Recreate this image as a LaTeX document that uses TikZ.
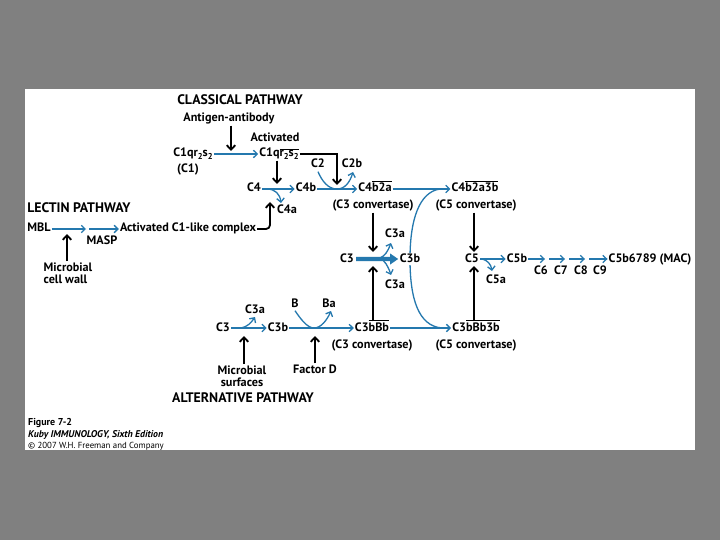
\documentclass[tikz,border=0pt]{standalone}
\usepackage{fontspec}
\setmainfont{PT Sans}
\usetikzlibrary{arrows.meta,calc}
\definecolor{bgg}{RGB}{128,128,128}
\definecolor{arb}{RGB}{36,120,174}
\newcommand\sbt[1]{\raisebox{-0.4ex}{\fontsize{8.5}{9}\selectfont #1}}
\newcommand\ovl[1]{\vbox{\hrule height 0.8pt\kern1.2pt\hbox{#1}}}
\begin{document}
\begin{tikzpicture}[x=1pt,y=-1pt,
 lbl/.style={font=\bfseries\fontsize{12.2}{13}\selectfont, inner sep=1pt, text height=8.5pt, text depth=2.5pt},
 lblm/.style={font=\bfseries\fontsize{12.2}{12.5}\selectfont, inner sep=1pt},
 ttl/.style={font=\bfseries\fontsize{13.8}{15}\selectfont, inner sep=0pt},
 barr/.style={draw=arb, line width=1.3pt, -{Straight Barb[length=3.8pt,width=7.5pt]}},
 bln/.style={draw=arb, line width=1.3pt},
 karr/.style={draw=black, line width=1.8pt, -{Straight Barb[length=4.5pt,width=8.5pt]}},
 foot/.style={anchor=west, inner sep=0pt, font=\fontsize{8.8}{10}\selectfont}]
\fill[bgg] (0,0) rectangle (720,540);
\fill[white] (25,89) rectangle (695,450);
\useasboundingbox (0,0) rectangle (720,540);

% classical pathway
\node[ttl] (cp) at (240,100) {CLASSICAL PATHWAY};
\node[lbl] (ag) at (229,119) {Antigen-antibody};
\node[lbl] (c1) at (193,154) {C1qr\sbt2s\sbt2};
\node[lbl] (c1n) at (188,170) {(C1)};
\node[lbl] (act) at (275,139) {Activated};
\node[lbl] (c1a) at (279,154) {C1q\ovl{r\sbt2s\sbt2}};
\coordinate (j1) at (231,151);
\draw[karr] (ag.south -| j1) -- (j1);
\draw[barr] (c1) -- (c1a);
\coordinate (j2) at (337,185);
\draw[karr] (c1a.east) -- (j2 |- c1a.east) -- (j2);
\coordinate (j3) at (277,184);
\draw[karr] (j3 |- c1a.south) -- (j3);

\node[lbl] (c2) at (318,165) {C2};
\node[lbl] (c2b) at (352,165) {C2b};
\node[lbl] (c4) at (254,189) {C4};
\node[lbl] (c4b) at (306,189) {C4b};
\node[lbl] (c4a) at (287,211) {C4a};
\draw[barr] (c4) -- (c4b);
\coordinate (b4) at (267,189);
\coordinate (b4e) at (281,203);
\draw[barr] (b4) .. controls (275,189) and (280,194) .. (b4e);

% lectin pathway
\node[ttl] (lp) at (79,208) {LECTIN PATHWAY};
\node[lbl] (mbl) at (39,229) {MBL};
\node[lbl] (masp) at (102,241) {MASP};
\node[lbl] (ac1) at (188,229) {Activated C1-like complex};
\coordinate (m1) at (86,229);
\coordinate (m2) at (89,229);
\draw[barr] (mbl) -- (m1);
\draw[barr] (m2) -- (ac1);
\node[lblm, align=left] (mcw) at (68,273) {Microbial\\cell wall};
\coordinate (m3) at (67,234);
\draw[karr] (m3 |- mcw.north) -- (m3);
\coordinate (h1) at (270,202);
\draw[karr, rounded corners=4pt] (ac1.east) -- (h1 |- ac1.east) -- (h1);

% convertases
\node[lbl] (c4b2a) at (375,189) {C4\ovl{b2a}};
\node[lbl] (cv1) at (373,206) {(C3 convertase)};
\draw[barr] (c4b) -- (c4b2a);
\coordinate (j2b) at (337,189);
\draw[bln] (c2.south) .. controls (322,181) and (328,189) .. (j2b);
\draw[barr] (j2b) .. controls (345,189) and (350,182) .. (353,172);
\node[lbl] (c4b2a3b) at (475,189) {C4\ovl{b2a3b}};
\node[lbl] (cv2) at (476,206) {(C5 convertase)};
\draw[barr] (c4b2a) -- (c4b2a3b);

% C3b joining curve
\coordinate (cc) at (410,259);
\coordinate (t1) at (440,189);
\coordinate (t2) at (442,328);
\draw[bln] (t1) .. controls (419,192) and (410,220) .. (cc) .. controls (410,298) and (418,326) .. (t2);

% C3 row
\node[lbl] (c3m) at (347,259) {C3};
\node[lbl, fill=white, inner sep=0.5pt] (c3bm) at (410,259) {C3b};
\coordinate (tp) at ($(c3bm.west)+(-1,0)$);
\coordinate (tq) at ($(c3m.east)+(1,0)$);
\fill[arb] (tq) ++(0,-2.2) -- ($(tp)+(-8,-2.2)$) -- ($(tp)+(-8,-5.5)$) -- (tp)
  -- ($(tp)+(-8,5.5)$) -- ($(tp)+(-8,2.2)$) -- ($(tq)+(0,2.2)$) -- cycle;
\node[lbl] (c3a1) at (395,234) {C3a};
\node[lbl] (c3a2) at (395,285) {C3a};
\coordinate (s1) at (380,258);
\coordinate (s1a) at (391,243);
\coordinate (s1b) at (391,275);
\draw[barr] (s1) .. controls (385,256) and (388,251) .. (s1a);
\draw[barr] (s1) .. controls (385,261) and (388,266) .. (s1b);

% C5 row
\node[lbl] (c5) at (472,259) {C5};
\node[lbl] (c5b) at (517,259) {C5b};
\node[lbl] (c5a) at (496,280) {C5a};
\draw[barr] (c5) -- (c5b);
\coordinate (s2) at (482,259);
\coordinate (s2e) at (492,271);
\draw[barr] (s2) .. controls (487,260) and (491,264) .. (s2e);
\node[lbl] (c6) at (541,271) {C6};
\node[lbl] (c7) at (561,271) {C7};
\node[lbl] (c8) at (581,271) {C8};
\node[lbl] (c9) at (600,271) {C9};
\node[lbl] (mac) at (650,259) {C5b6789 (MAC)};
\coordinate (a1e) at (545,259);
\coordinate (a2s) at (549,259);
\coordinate (a2e) at (565,259);
\coordinate (a3s) at (569,259);
\coordinate (a3e) at (585,259);
\coordinate (a4s) at (589,259);
\draw[barr] (c5b) -- (a1e);
\draw[barr] (a2s) -- (a2e);
\draw[barr] (a3s) -- (a3e);
\draw[barr] (a4s) -- (mac);

% alternative pathway
\node[lbl] (c3L) at (223,328) {C3};
\node[lbl] (c3aL) at (255,310) {C3a};
\node[lbl] (c3bL) at (278,328) {C3b};
\draw[barr] (c3L) -- (c3bL);
\coordinate (s3) at (241,328);
\coordinate (s3e) at (255,317);
\draw[barr] (s3) .. controls (247,327) and (251,323) .. (s3e);
\node[lbl] (Bn) at (295,304) {B};
\node[lbl] (Ba) at (329,304) {Ba};
\node[lbl] (c3bBb) at (372,328) {C3\ovl{bBb}};
\node[lbl] (cv3) at (372,345) {(C3 convertase)};
\node[lbl] (c3bBb3b) at (476,328) {C3\ovl{bBb3b}};
\node[lbl] (cv4) at (476,345) {(C5 convertase)};
\draw[barr] (c3bL) -- (c3bBb);
\coordinate (jB) at (314,328);
\coordinate (jBe) at (331,311);
\draw[bln] (Bn.south) .. controls (300,318) and (307,328) .. (jB);
\draw[barr] (jB) .. controls (321,328) and (327,320) .. (jBe);
\draw[barr] (c3bBb) -- (c3bBb3b);
\node[lblm, align=center] (ms) at (242,376) {Microbial\\surfaces};
\node[lbl] (fd) at (315,370) {Factor D};
\coordinate (k5) at (244,336);
\draw[karr] (k5 |- ms.north) -- (k5);
\coordinate (k6) at (315,336);
\draw[karr] (k6 |- fd.north) -- (k6);
\node[ttl] (ap) at (243,398) {ALTERNATIVE PATHWAY};

% vertical black arrows into C3 / C5 rows
\coordinate (k1) at (373,252);
\draw[karr] (k1 |- cv1.south) -- (k1);
\coordinate (k2) at (373,266);
\draw[karr] (k2 |- c3bBb.north) -- (k2);
\coordinate (k3) at (474,252);
\draw[karr] (k3 |- cv2.south) -- (k3);
\coordinate (k4) at (474,266);
\draw[karr] (k4 |- c3bBb3b.north) -- (k4);

% footer
\node[foot, font=\bfseries\fontsize{10}{11}\selectfont] (f1) at (28,423) {Figure 7-2};
\node[foot, font=\bfseries\itshape\fontsize{9.8}{10}\selectfont] (f2) at (28,435) {Kuby IMMUNOLOGY, Sixth Edition};
\node[foot] (f3) at (28,446) {© 2007 W.H. Freeman and Company};
\end{tikzpicture}
\end{document}
